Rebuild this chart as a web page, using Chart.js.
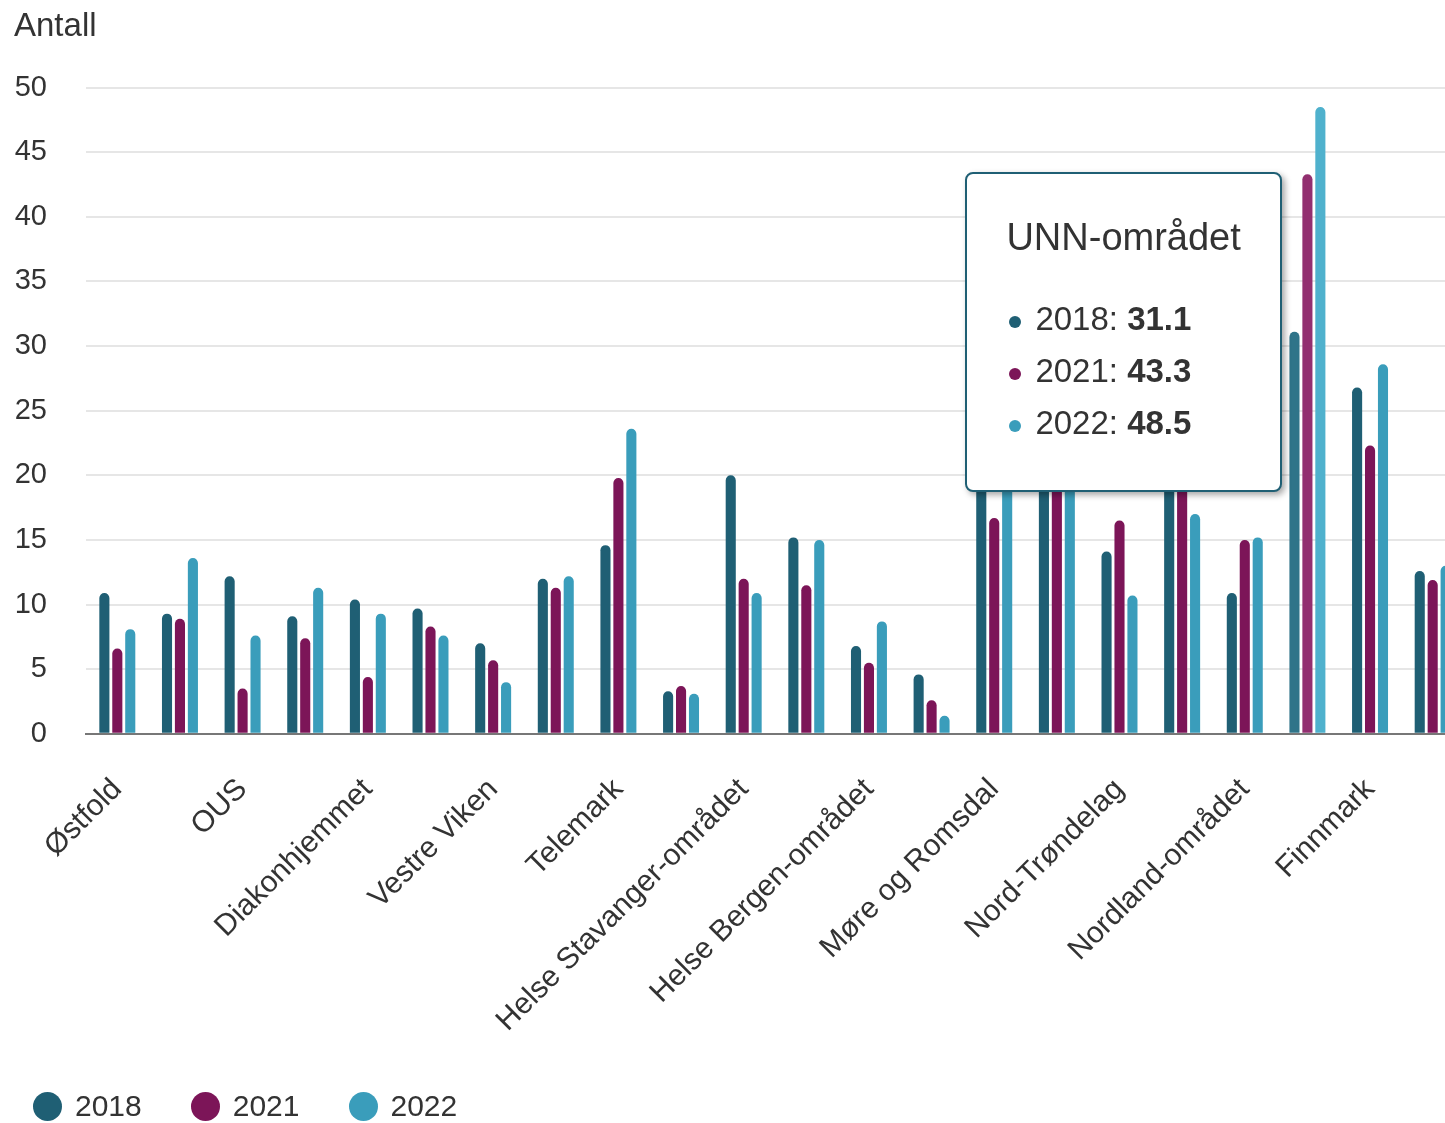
<!DOCTYPE html>
<html lang="no">
<head>
<meta charset="utf-8">
<title>Antall</title>
<script src="https://cdn.jsdelivr.net/npm/chart.js@4.4.1/dist/chart.umd.min.js"></script>
<style>
  html, body { margin: 0; padding: 0; background: #fff; overflow: hidden; }
  body { width: 1445px; height: 1123px; font-family: 'Liberation Sans', Arial, sans-serif; color: #333; }
  #wrap { position: relative; width: 1464px; height: 1123px; }
  #chart { display: block; }
  #tt { position: absolute; display: none; background: #fff; border: 2px solid #1f5f74; border-radius: 8px;
        box-shadow: 3px 3px 6px rgba(0,0,0,.35); padding: 41px 39px 41px; white-space: nowrap; pointer-events: none; }
  #tt .tt-title { font-size: 38px; line-height: 44px; margin-bottom: 34px; }
  #tt .tt-row { font-size: 33px; line-height: 52px; }
  #tt .dot { display: inline-block; width: 12px; height: 12px; border-radius: 50%; margin: 0 14px 0 3px; vertical-align: middle; }
  #legend { position: absolute; left: 33px; top: 1089px; display: flex; align-items: center; font-size: 30px; line-height: 34px; }
  .lg-item { display: flex; align-items: center; margin-right: 49px; }
  .lg-dot { width: 29px; height: 29px; border-radius: 50%; margin-right: 13px; }
</style>
</head>
<body>
<div id="wrap">
  <canvas id="chart"></canvas>
  <div id="tt"></div>
  <div id="legend"></div>
</div>
<script>
// Data (lest av bildet)
const labels = ['Østfold', 'Akershus', 'OUS', 'Lovisenberg', 'Diakonhjemmet', 'Innlandet', 'Vestre Viken',
  'Vestfold', 'Telemark', 'Sørlandet', 'Helse Stavanger-området', 'Helse Fonna', 'Helse Bergen-området',
  'Helse Førde', 'Møre og Romsdal', 'St. Olavs', 'Nord-Trøndelag', 'Helgeland', 'Nordland-området',
  'UNN-området', 'Finnmark', 'Norge'];
const v2018 = [10.9, 9.3, 12.2, 9.1, 10.4, 9.7, 7.0, 12.0, 14.6, 3.3, 20.0, 15.2, 6.8, 4.6, 20.5, 22.0, 14.1, 19.5, 10.9, 31.1, 26.8, 12.6];
const v2021 = [6.6, 8.9, 3.5, 7.4, 4.4, 8.3, 5.7, 11.3, 19.8, 3.7, 12.0, 11.5, 5.5, 2.6, 16.7, 19.5, 16.5, 20.5, 15.0, 43.3, 22.3, 11.9];
const v2022 = [8.1, 13.6, 7.6, 11.3, 9.3, 7.6, 4.0, 12.2, 23.6, 3.1, 10.9, 15.0, 8.7, 1.4, 21.0, 23.0, 10.7, 17.0, 15.2, 48.5, 28.6, 13.0];
const years = ['2018', '2021', '2022'];
const yMin = 0, yMax = 50, yStep = 5;
const focusLabel = 'UNN-området';

const colors = ['#1f5f74', '#7c1558', '#3a9dbb'];
const hoverColors = ['#2f7489', '#922f70', '#4fb1cd'];
const FONT = "'Liberation Sans', Arial, sans-serif";

Chart.defaults.font.family = FONT;
Chart.defaults.color = '#333';

// HTML-tooltip (fet verdi)
function externalTooltip({ tooltip }) {
  const tt = document.getElementById('tt');
  const pts = tooltip.dataPoints || [];
  if (tooltip.opacity === 0 || !pts.length) { tt.style.display = 'none'; return; }
  let html = '<div class="tt-title">' + pts[0].label + '</div>';
  pts.forEach(p => {
    html += '<div class="tt-row"><span class="dot" style="background:' + colors[p.datasetIndex] + '"></span>' +
      p.dataset.label + ': <b>' + Number(p.raw).toFixed(1) + '</b></div>';
  });
  tt.innerHTML = html;
  tt.style.display = 'block';
  const first = pts[0].element;
  const avgTop = pts.reduce((s, p) => s + p.element.y, 0) / pts.length;
  tt.style.left = (first.x - first.width / 2 - 8 - tt.offsetWidth) + 'px';
  tt.style.top = (avgTop - 32) + 'px';
}

const series = [v2018, v2021, v2022];
const datasets = years.map((y, i) => ({
  label: y,
  data: series[i],
  backgroundColor: colors[i],
  hoverBackgroundColor: hoverColors[i],
  borderRadius: { topLeft: 6, topRight: 6 },
  borderSkipped: 'bottom',
  categoryPercentage: 0.62,
  barPercentage: 0.78
}));

const chart = new Chart(document.getElementById('chart'), {
  type: 'bar',
  data: { labels, datasets },
  options: {
    responsive: true,
    maintainAspectRatio: false,
    animation: false,
    events: [],
    layout: { padding: { left: 14, top: 0, right: 0, bottom: 54 } },
    plugins: {
      legend: { display: false },
      title: {
        display: true, text: 'Antall', align: 'start', color: '#333',
        font: { size: 33, weight: 'normal' },
        padding: { top: 7, bottom: 41 }
      },
      tooltip: { enabled: false, mode: 'index', external: externalTooltip }
    },
    scales: {
      x: {
        grid: { display: false },
        border: { display: true, color: '#777', width: 2 },
        // skrå etiketter skal ikke skyve plottet
        afterFit: (scale) => { scale.paddingLeft = 0; scale.paddingRight = 0; },
        ticks: {
          autoSkip: false, minRotation: 45, maxRotation: 45, padding: 30,
          font: { size: 30 }, color: '#333',
          callback: function (value, index) { return index % 2 === 0 ? this.getLabelForValue(value) : ''; }
        }
      },
      y: {
        min: yMin, max: yMax,
        border: { display: false },
        afterFit: (scale) => { scale.width = 72; },
        grid: {
          drawTicks: false, lineWidth: 2,
          color: (ctx) => (ctx.tick && ctx.tick.value === 0 ? 'rgba(0,0,0,0)' : '#e6e6e6')
        },
        ticks: { stepSize: yStep, padding: 39, font: { size: 29 }, color: '#333' }
      }
    }
  }
});

// Legend
const legend = document.getElementById('legend');
years.forEach((y, i) => {
  const item = document.createElement('div');
  item.className = 'lg-item';
  item.innerHTML = '<span class="lg-dot" style="background:' + colors[i] + '"></span><span>' + y + '</span>';
  legend.appendChild(item);
});

// Aktiv kategori med tooltip, som i originalen
const focus = labels.indexOf(focusLabel);
const active = years.map((_, i) => ({ datasetIndex: i, index: focus }));
chart.setActiveElements(active);
chart.tooltip.setActiveElements(active, { x: 0, y: 0 });
chart.update();
</script>
</body>
</html>
